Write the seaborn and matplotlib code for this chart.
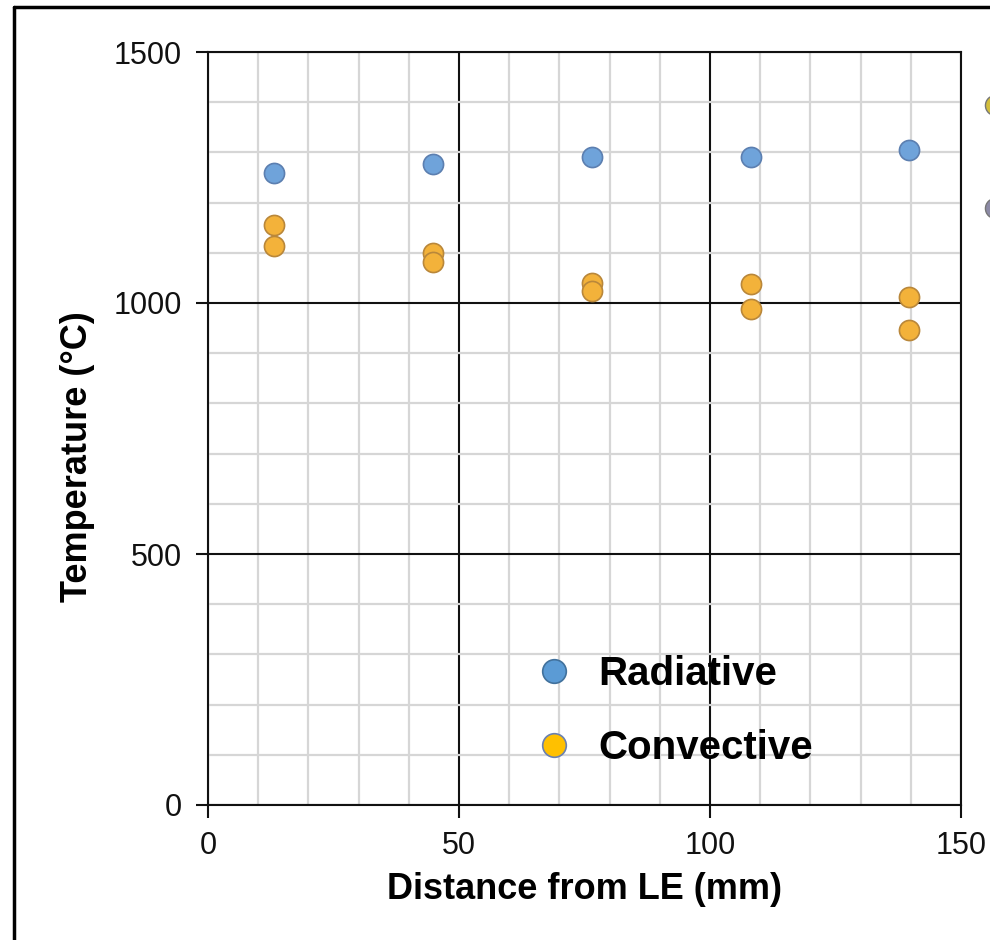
import pandas as pd
import seaborn as sns
import matplotlib.pyplot as plt
from matplotlib.lines import Line2D

# values
distance = [13.1, 44.8, 76.5, 108.2, 139.6]
radiative = [1259, 1277, 1291, 1291, 1305]
convective_hi = [1155, 1100, 1040, 1038, 1012]
convective_lo = [1114, 1082, 1024, 988, 946]

# two points of another series, cut off by the right edge of the picture
extra_distance = [156.8, 156.8]
extra_temp = [1394, 1189]
extra_colors = ["#D2BE3C", "#8C8AA6"]

x_ticks = [0, 50, 100, 150]
y_ticks = [0, 500, 1000, 1500]

rad_df = pd.DataFrame({"Distance": distance, "Temperature": radiative})
conv_df = pd.DataFrame({"Distance": distance * 2,
                        "Temperature": convective_hi + convective_lo})

sns.set_style("white")
plt.rcParams["font.family"] = ["Liberation Sans", "DejaVu Sans"]
plt.rcParams["text.color"] = "black"
plt.rcParams["axes.labelcolor"] = "black"

fig = plt.figure(figsize=(9.9, 9.4), dpi=100)
ax = fig.add_axes([208 / 990, 135 / 940, 753 / 990, 753 / 940])

sns.scatterplot(data=rad_df, x="Distance", y="Temperature", ax=ax,
                color="#6FA3DA", edgecolor="#5C7FB0", linewidth=1.2, s=210, zorder=3)
sns.scatterplot(data=conv_df, x="Distance", y="Temperature", ax=ax,
                color="#F3B23A", edgecolor="#B9873A", linewidth=1.2, s=210, zorder=3)
for xv, yv, c in zip(extra_distance, extra_temp, extra_colors):
    ax.scatter(xv, yv, s=210, color=c, edgecolor="#777777", linewidth=1.0,
               clip_on=False, zorder=3)

ax.set_xlim(0, 150)
ax.set_ylim(0, 1500)
ax.set_xticks(x_ticks)
ax.set_yticks(y_ticks)
ax.set_xticks(range(0, 151, 10), minor=True)
ax.set_yticks(range(0, 1501, 100), minor=True)
ax.set_axisbelow(True)
ax.grid(which="minor", color="#D6D6D6", linewidth=1.6)
ax.grid(which="major", color="#111111", linewidth=1.5)
for sp in ax.spines.values():
    sp.set_color("#111111")
    sp.set_linewidth(1.5)

ax.tick_params(which="major", bottom=True, left=True, direction="out", length=9,
               width=1.5, color="#111111", labelsize=22, labelcolor="#111111", pad=10)
ax.tick_params(which="minor", length=0)

ax.set_xlabel("Distance from LE (mm)", fontsize=26, fontweight="bold")
ax.set_ylabel("Temperature (°C)", fontsize=26, fontweight="bold")
ax.xaxis.set_label_coords(0.5, -0.089)
ax.yaxis.set_label_coords(-0.150, 0.463)

handles = [
    Line2D([], [], marker="o", linestyle="none", markersize=17,
           markerfacecolor="#5B9BD5", markeredgecolor="#41719C", markeredgewidth=1.2),
    Line2D([], [], marker="o", linestyle="none", markersize=17,
           markerfacecolor="#FFC000", markeredgecolor="#6A80B0", markeredgewidth=1.2),
]
ax.legend(handles, ["Radiative", "Convective"], loc="center left",
          bbox_to_anchor=(0.411, 0.125), frameon=False, borderaxespad=0,
          handlelength=1.0, handletextpad=0.6, labelspacing=0.9,
          prop={"weight": "bold", "size": 29})

# picture frame on the left and top
fig.add_artist(Line2D([13.5 / 990, 13.5 / 990], [0, 1 - 7 / 940],
                      transform=fig.transFigure, color="black", linewidth=2.5))
fig.add_artist(Line2D([13.5 / 990, 1], [1 - 7 / 940, 1 - 7 / 940],
                      transform=fig.transFigure, color="black", linewidth=2.5))

fig.savefig("out.png", dpi=100)
